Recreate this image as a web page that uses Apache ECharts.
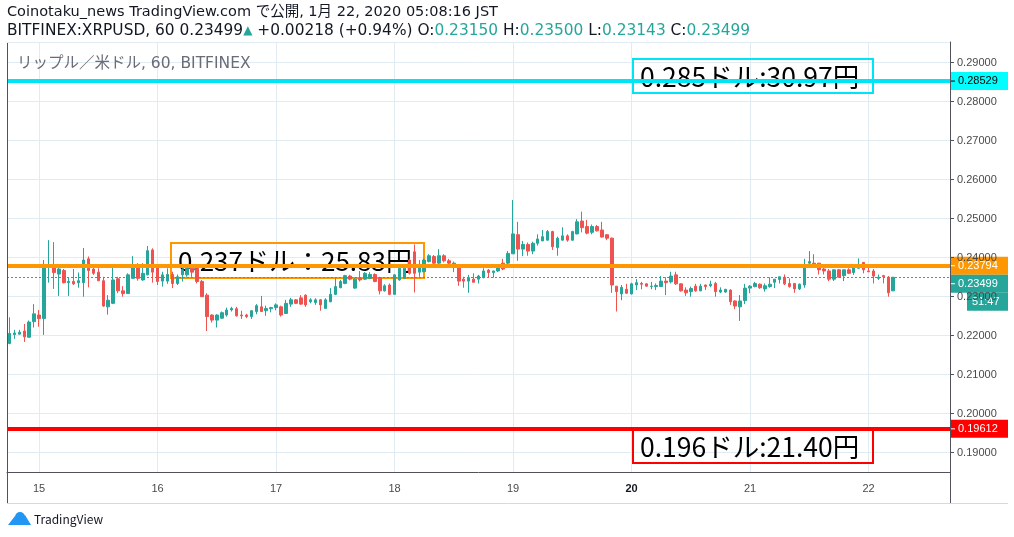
<!DOCTYPE html>
<html>
<head>
<meta charset="utf-8">
<script src="https://cdn.jsdelivr.net/npm/echarts@6.0.0/dist/echarts.min.js"></script>
<style>
html, body { margin: 0; padding: 0; background: #fff; }
#main { width: 1014px; height: 537px; }
</style>
</head>
<body>
<div id="main"></div>
<script>
// hourly candles, each row = [open, close, low, high]
var day14 = [
    [0.2180, 0.2206, 0.2178, 0.2247], [0.2203, 0.2207, 0.2192, 0.2215], [0.2204, 0.2209, 0.2203, 0.2215],
    [0.2212, 0.2197, 0.2184, 0.2230], [0.2196, 0.2235, 0.2196, 0.2239], [0.2236, 0.2256, 0.2221, 0.2281]
];
var day15 = [
    [0.2253, 0.2244, 0.2223, 0.2266], [0.2244, 0.2377, 0.2202, 0.2394], [0.2375, 0.2380, 0.2336, 0.2445],
    [0.2377, 0.2362, 0.2320, 0.2440], [0.2358, 0.2371, 0.2302, 0.2375], [0.2367, 0.2336, 0.2334, 0.2371],
    [0.2336, 0.2339, 0.2302, 0.2350], [0.2339, 0.2333, 0.2330, 0.2371], [0.2336, 0.2341, 0.2323, 0.2362],
    [0.2336, 0.2394, 0.2300, 0.2425], [0.2397, 0.2367, 0.2324, 0.2403], [0.2371, 0.2360, 0.2356, 0.2375],
    [0.2363, 0.2341, 0.2340, 0.2373], [0.2341, 0.2276, 0.2274, 0.2351], [0.2274, 0.2291, 0.2254, 0.2304],
    [0.2283, 0.2343, 0.2281, 0.2375], [0.2346, 0.2315, 0.2309, 0.2351], [0.2315, 0.2308, 0.2300, 0.2327],
    [0.2308, 0.2356, 0.2308, 0.2360], [0.2347, 0.2375, 0.2346, 0.2404], [0.2377, 0.2347, 0.2341, 0.2386],
    [0.2343, 0.2360, 0.2341, 0.2386], [0.2356, 0.2418, 0.2355, 0.2430], [0.2420, 0.2363, 0.2336, 0.2424]
];
var day16 = [
    [0.2377, 0.2339, 0.2330, 0.2381], [0.2340, 0.2356, 0.2326, 0.2364], [0.2340, 0.2357, 0.2333, 0.2373],
    [0.2357, 0.2334, 0.2322, 0.2364], [0.2334, 0.2351, 0.2330, 0.2357], [0.2356, 0.2369, 0.2339, 0.2373],
    [0.2356, 0.2373, 0.2351, 0.2377], [0.2373, 0.2363, 0.2351, 0.2377], [0.2373, 0.2339, 0.2334, 0.2377],
    [0.2339, 0.2300, 0.2300, 0.2343], [0.2304, 0.2249, 0.2212, 0.2309], [0.2253, 0.2240, 0.2234, 0.2255],
    [0.2240, 0.2253, 0.2221, 0.2255], [0.2245, 0.2259, 0.2243, 0.2262], [0.2253, 0.2266, 0.2249, 0.2272],
    [0.2266, 0.2270, 0.2262, 0.2274], [0.2269, 0.2251, 0.2249, 0.2274], [0.2253, 0.2251, 0.2243, 0.2264],
    [0.2253, 0.2249, 0.2245, 0.2256], [0.2249, 0.2264, 0.2243, 0.2265], [0.2262, 0.2277, 0.2255, 0.2281],
    [0.2274, 0.2262, 0.2262, 0.2302], [0.2264, 0.2270, 0.2251, 0.2277], [0.2269, 0.2272, 0.2260, 0.2274]
];
var day17 = [
    [0.2272, 0.2279, 0.2265, 0.2283], [0.2274, 0.2253, 0.2249, 0.2277], [0.2257, 0.2283, 0.2256, 0.2292],
    [0.2281, 0.2292, 0.2274, 0.2297], [0.2292, 0.2283, 0.2281, 0.2294], [0.2297, 0.2281, 0.2279, 0.2304],
    [0.2304, 0.2279, 0.2274, 0.2306], [0.2287, 0.2292, 0.2283, 0.2296], [0.2285, 0.2292, 0.2279, 0.2296],
    [0.2292, 0.2279, 0.2264, 0.2294], [0.2270, 0.2292, 0.2269, 0.2296], [0.2287, 0.2306, 0.2286, 0.2322],
    [0.2306, 0.2326, 0.2304, 0.2347], [0.2323, 0.2339, 0.2322, 0.2343], [0.2334, 0.2354, 0.2332, 0.2356],
    [0.2353, 0.2345, 0.2342, 0.2356], [0.2322, 0.2345, 0.2320, 0.2347], [0.2347, 0.2343, 0.2339, 0.2366],
    [0.2345, 0.2360, 0.2343, 0.2363], [0.2347, 0.2357, 0.2345, 0.2363], [0.2357, 0.2339, 0.2337, 0.2360],
    [0.2349, 0.2315, 0.2306, 0.2351], [0.2315, 0.2328, 0.2313, 0.2332], [0.2330, 0.2306, 0.2304, 0.2334]
];
var day18 = [
    [0.2306, 0.2356, 0.2306, 0.2357], [0.2343, 0.2373, 0.2341, 0.2377], [0.2347, 0.2373, 0.2345, 0.2381],
    [0.2394, 0.2360, 0.2357, 0.2397], [0.2415, 0.2360, 0.2311, 0.2434], [0.2363, 0.2374, 0.2351, 0.2394],
    [0.2364, 0.2394, 0.2363, 0.2398], [0.2390, 0.2405, 0.2388, 0.2409], [0.2403, 0.2386, 0.2383, 0.2407],
    [0.2386, 0.2405, 0.2384, 0.2422], [0.2405, 0.2392, 0.2388, 0.2409], [0.2392, 0.2386, 0.2377, 0.2397],
    [0.2377, 0.2386, 0.2363, 0.2390], [0.2377, 0.2340, 0.2328, 0.2381], [0.2345, 0.2340, 0.2323, 0.2351],
    [0.2340, 0.2349, 0.2310, 0.2356], [0.2345, 0.2337, 0.2337, 0.2360], [0.2345, 0.2353, 0.2334, 0.2356],
    [0.2349, 0.2366, 0.2347, 0.2373], [0.2368, 0.2362, 0.2349, 0.2371], [0.2362, 0.2366, 0.2349, 0.2366],
    [0.2366, 0.2377, 0.2363, 0.2381], [0.2386, 0.2371, 0.2368, 0.2397], [0.2386, 0.2411, 0.2383, 0.2417]
];
var day19 = [
    [0.2410, 0.2461, 0.2410, 0.2548], [0.2459, 0.2422, 0.2392, 0.2492], [0.2422, 0.2434, 0.2404, 0.2443],
    [0.2434, 0.2417, 0.2405, 0.2439], [0.2417, 0.2437, 0.2409, 0.2441], [0.2437, 0.2448, 0.2431, 0.2460],
    [0.2443, 0.2454, 0.2443, 0.2471], [0.2445, 0.2467, 0.2444, 0.2471], [0.2467, 0.2428, 0.2420, 0.2469],
    [0.2426, 0.2450, 0.2405, 0.2454], [0.2445, 0.2456, 0.2444, 0.2478], [0.2456, 0.2445, 0.2441, 0.2460],
    [0.2445, 0.2467, 0.2443, 0.2469], [0.2461, 0.2492, 0.2460, 0.2499], [0.2494, 0.2477, 0.2465, 0.2518],
    [0.2480, 0.2463, 0.2460, 0.2497], [0.2465, 0.2480, 0.2460, 0.2485], [0.2480, 0.2469, 0.2467, 0.2484],
    [0.2471, 0.2453, 0.2452, 0.2492], [0.2459, 0.2450, 0.2445, 0.2460], [0.2450, 0.2330, 0.2310, 0.2452],
    [0.2327, 0.2313, 0.2262, 0.2327], [0.2307, 0.2324, 0.2291, 0.2330], [0.2319, 0.2309, 0.2307, 0.2333]
];
var day20 = [
    [0.2307, 0.2333, 0.2306, 0.2336], [0.2330, 0.2336, 0.2317, 0.2345], [0.2334, 0.2332, 0.2319, 0.2338],
    [0.2333, 0.2327, 0.2326, 0.2334], [0.2326, 0.2327, 0.2319, 0.2338], [0.2326, 0.2329, 0.2317, 0.2334],
    [0.2326, 0.2340, 0.2326, 0.2353], [0.2340, 0.2336, 0.2304, 0.2350], [0.2338, 0.2353, 0.2334, 0.2364],
    [0.2356, 0.2333, 0.2330, 0.2364], [0.2333, 0.2315, 0.2313, 0.2334], [0.2317, 0.2310, 0.2302, 0.2324],
    [0.2313, 0.2321, 0.2300, 0.2326], [0.2327, 0.2315, 0.2313, 0.2333], [0.2315, 0.2327, 0.2314, 0.2333],
    [0.2330, 0.2326, 0.2317, 0.2331], [0.2328, 0.2332, 0.2324, 0.2341], [0.2334, 0.2313, 0.2300, 0.2338],
    [0.2312, 0.2317, 0.2309, 0.2324], [0.2312, 0.2319, 0.2310, 0.2320], [0.2317, 0.2287, 0.2279, 0.2319],
    [0.2289, 0.2276, 0.2268, 0.2291], [0.2274, 0.2289, 0.2238, 0.2304], [0.2290, 0.2322, 0.2281, 0.2333]
];
var day21 = [
    [0.2322, 0.2327, 0.2309, 0.2330], [0.2326, 0.2334, 0.2324, 0.2338], [0.2332, 0.2323, 0.2320, 0.2334],
    [0.2320, 0.2328, 0.2313, 0.2334], [0.2326, 0.2332, 0.2323, 0.2350], [0.2337, 0.2345, 0.2322, 0.2345],
    [0.2344, 0.2351, 0.2334, 0.2351], [0.2350, 0.2333, 0.2330, 0.2357], [0.2334, 0.2326, 0.2323, 0.2347],
    [0.2334, 0.2320, 0.2310, 0.2334], [0.2320, 0.2332, 0.2317, 0.2334], [0.2330, 0.2375, 0.2323, 0.2397],
    [0.2386, 0.2390, 0.2377, 0.2417], [0.2386, 0.2383, 0.2383, 0.2409], [0.2386, 0.2369, 0.2357, 0.2386],
    [0.2371, 0.2366, 0.2357, 0.2377], [0.2366, 0.2345, 0.2340, 0.2371], [0.2345, 0.2369, 0.2340, 0.2369],
    [0.2369, 0.2350, 0.2349, 0.2371], [0.2354, 0.2369, 0.2340, 0.2369], [0.2369, 0.2360, 0.2358, 0.2373],
    [0.2362, 0.2375, 0.2356, 0.2375], [0.2373, 0.2383, 0.2371, 0.2398], [0.2388, 0.2369, 0.2360, 0.2388]
];
var day22 = [
    [0.2366, 0.2364, 0.2363, 0.2377], [0.2366, 0.2353, 0.2334, 0.2371], [0.2347, 0.2350, 0.2343, 0.2357],
    [0.2354, 0.2351, 0.2334, 0.2356], [0.2350, 0.2310, 0.2300, 0.2353], [0.23150, 0.23499, 0.23143, 0.23500]
];

var firstDay = 14, firstHour = 18, slotCount = 191;   // 180 bars + empty space on the right
var boldDay = '20';
var priceTicks = [0.19, 0.20, 0.21, 0.22, 0.23, 0.24, 0.25, 0.26, 0.27, 0.28, 0.29];
var resistance = 0.28529, midLine = 0.23794, support = 0.19612, lastPrice = 0.23499;
var countdown = '51:47';

var UP = '#26a69a', DOWN = '#ef5350';
var GRID = '#e1ecf2', AXIS = '#50535e', TXT = '#4a4a4a';
var JP = '"Noto Sans CJK JP", "Noto Sans", sans-serif';
var HEAD = '"DejaVu Sans", "Noto Sans CJK JP", sans-serif';

var categories = [];
for (var k = 0; k < slotCount; k++) {
    var h = firstHour + k;
    categories.push((firstDay + Math.floor(h / 24)) + ' ' + ('0' + (h % 24)).slice(-2));
}
var candles = day14.concat(day15, day16, day17, day18, day19, day20, day21, day22);

function isMidnight(i, v) { return v.slice(-2) === '00'; }

var chart = echarts.init(document.getElementById('main'));

var option = {
    animation: false,
    backgroundColor: '#fff',
    grid: { left: 7, right: 64, top: 42, bottom: 65 },
    xAxis: {
        type: 'category',
        data: categories,
        boundaryGap: true,
        axisLine: { show: true, lineStyle: { color: AXIS } },
        axisTick: { show: false, alignWithLabel: true },
        axisLabel: {
            interval: isMidnight,
            margin: 11,
            color: TXT,
            fontSize: 11,
            fontFamily: 'Liberation Sans',
            formatter: function (v) {
                var d = v.split(' ')[0];
                return d === boldDay ? '{b|' + d + '}' : d;
            },
            rich: { b: { fontWeight: 'bold', color: '#131722', fontSize: 11, fontFamily: 'Liberation Sans' } }
        },
        splitLine: { show: true, interval: isMidnight, alignWithLabel: true, lineStyle: { color: GRID } }
    },
    yAxis: {
        position: 'right',
        scale: true,
        min: 0.18505,
        max: 0.29531,
        axisLine: { show: true, lineStyle: { color: AXIS } },
        axisTick: { show: true, length: 4, customValues: priceTicks, lineStyle: { color: AXIS } },
        axisLabel: {
            customValues: priceTicks,
            margin: 7,
            color: TXT,
            fontSize: 11,
            fontFamily: 'Liberation Sans',
            formatter: function (v) { return v.toFixed(5); }
        },
        splitLine: { show: true, lineStyle: { color: GRID } }
    },
    series: [{
        type: 'candlestick',
        data: candles,
        barWidth: 3,
        itemStyle: { color: UP, color0: DOWN, borderColor: UP, borderColor0: DOWN, borderWidth: 1 },
        markLine: {
            symbol: ['none', 'none'],
            silent: true,
            precision: 5,
            label: { show: false },
            data: [
                { yAxis: resistance, lineStyle: { color: '#00e5f5', width: 4, type: 'solid' } },
                { yAxis: midLine, lineStyle: { color: '#ff9800', width: 4, type: 'solid' } },
                { yAxis: support, lineStyle: { color: '#ff0000', width: 4, type: 'solid' } },
                { yAxis: lastPrice, lineStyle: { color: UP, width: 1, type: [2, 2] } }
            ]
        }
    }]
};
chart.setOption(option);

function yPx(v) { return chart.convertToPixel({ yAxisIndex: 0 }, v); }

function tag(y, bg, fg, label, x, w) {
    return {
        type: 'group', x: x || 950, y: y, z: 100,
        children: [
            { type: 'rect', shape: { x: 0, y: 0, width: w || 58, height: 18 }, style: { fill: bg } },
            { type: 'line', shape: { x1: 1, y1: 9, x2: 5, y2: 9 }, style: { stroke: fg, lineWidth: 1 } },
            { type: 'text', x: 8, y: 9, style: { text: label, fill: fg, font: '11px "Liberation Sans"', verticalAlign: 'middle' } }
        ]
    };
}

function note(x, y, w, h, color, label, size) {
    return {
        type: 'group', x: x, y: y, z: 90,
        children: [
            { type: 'rect', shape: { x: 0, y: 0, width: w, height: h }, style: { fill: 'rgba(0,0,0,0)', stroke: color, lineWidth: 2 } },
            { type: 'text', x: 7, y: h / 2 + 1, style: { text: label, fill: '#000', font: size + 'px ' + JP, verticalAlign: 'middle' } }
        ]
    };
}

var yMid = yPx(midLine);
var graphics = [
    // header
    { type: 'text', left: 7, top: 5, z: 100, style: {
        text: 'Coinotaku_news TradingView.com で公開, 1月 22, 2020 05:08:16 JST',
        fill: '#131722', font: '14.5px ' + HEAD } },
    { type: 'text', left: 7, top: 23, z: 100, style: {
        text: 'BITFINEX:XRPUSD, 60 0.23499{t|▲} +0.00218 (+0.94%) O:{g|0.23150} H:{g|0.23500} L:{g|0.23143} C:{g|0.23499}',
        fill: '#131722', font: '15.4px ' + HEAD,
        rich: { t: { fill: UP, fontSize: 12, fontFamily: HEAD }, g: { fill: UP, fontSize: 15.4, fontFamily: HEAD } } } },
    // symbol caption
    { type: 'text', left: 17, top: 56, z: 100, style: {
        text: 'リップル／米ドル, 60, BITFINEX', fill: '#6a6d78', font: '15.5px ' + HEAD } },
    // frame
    { type: 'line', z: 50, shape: { x1: 7.5, y1: 42, x2: 7.5, y2: 503 }, style: { stroke: AXIS, lineWidth: 1 } },
    { type: 'line', z: 50, shape: { x1: 7, y1: 42.5, x2: 950, y2: 42.5 }, style: { stroke: GRID, lineWidth: 1 } },
    { type: 'line', z: 50, shape: { x1: 950.5, y1: 42, x2: 950.5, y2: 503 }, style: { stroke: AXIS, lineWidth: 1 } },
    { type: 'line', z: 50, shape: { x1: 7, y1: 503.5, x2: 1008, y2: 503.5 }, style: { stroke: '#d6d8de', lineWidth: 1 } },
    // annotations
    note(633, 59, 240, 34, '#00e5f5', '0.285ドル:30.97円', 26.5),
    note(171, 243, 253, 35, '#ff9800', '0.237ドル：25.83円', 26),
    note(633, 428, 240, 35, '#ff0000', '0.196ドル:21.40円', 26.5),
    // price tags on the scale
    tag(yPx(resistance) - 9, '#00ffff', '#000', resistance.toFixed(5)),
    tag(yMid - 9, '#ff9800', '#fff', midLine.toFixed(5)),
    tag(yMid + 9, UP, '#fff', lastPrice.toFixed(5)),
    {
        type: 'group', x: 967, y: yMid + 27, z: 100,
        children: [
            { type: 'rect', shape: { x: 0, y: 0, width: 41, height: 18 }, style: { fill: UP } },
            { type: 'text', x: 5, y: 9, style: { text: countdown, fill: '#fff', font: '11px "Liberation Sans"', verticalAlign: 'middle' } }
        ]
    },
    tag(yPx(support) - 9, '#ff0000', '#fff', support.toFixed(5)),
    // TradingView logo
    {
        type: 'group', x: 8, y: 511, z: 100,
        children: [
            { type: 'circle', shape: { cx: 12, cy: 6, r: 5 }, style: { fill: '#2196f3' } },
            { type: 'polygon', shape: { points: [[0, 14], [7, 5], [12, 10], [17, 4], [23, 14]] }, style: { fill: '#2196f3' } },
            { type: 'text', x: 26, y: 8, style: { text: 'TradingView', fill: '#131722', font: '12px ' + JP, verticalAlign: 'middle' } }
        ]
    }
];
chart.setOption({ graphic: graphics });
</script>
</body>
</html>
